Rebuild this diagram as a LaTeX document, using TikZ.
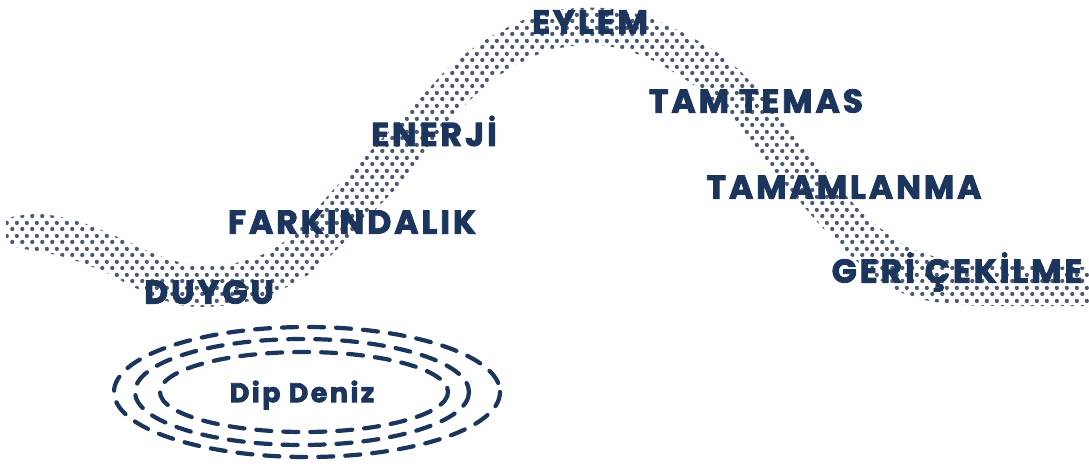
\documentclass[tikz,border=0pt]{standalone}
\usepackage{fontspec}
\usetikzlibrary{calc,patterns}
\newfontfamily\labfont{Poppins}[LetterSpace=9,BoldFeatures={FakeBold=2.5}]
\definecolor{navy}{RGB}{27,53,93}
\definecolor{dotc}{RGB}{74,88,116}
\pgfdeclarepatternformonly{hdots}{\pgfqpoint{0pt}{0pt}}{\pgfqpoint{10pt}{13pt}}{\pgfqpoint{10pt}{13pt}}{%
  \pgfpathcircle{\pgfqpoint{2.5pt}{3.25pt}}{2.3pt}%
  \pgfpathcircle{\pgfqpoint{7.5pt}{9.75pt}}{2.3pt}%
  \pgfusepath{fill}}
\begin{document}
\begin{tikzpicture}[x=1pt,y=-1pt,
  lab/.style={text=navy,font=\labfont\bfseries\fontsize{33}{36}\selectfont,inner sep=0pt,anchor=center},
  sublab/.style={text=navy,font=\labfont\bfseries\fontsize{27}{30}\selectfont,inner sep=0pt},
  ring/.style={draw=navy,line width=4.2pt,dash pattern=on 15pt off 12pt,line cap=round},
  band/.style={pattern=hdots,pattern color=dotc}]
\useasboundingbox (0,0) rectangle (1089,466);
\fill[white] (0,0) rectangle (1089,466);
% halftone band
\path[band] plot[smooth,tension=0.6] coordinates {(6,218) (40,214) (80,222) (120,238) (160,256) (200,266) (240,262) (275,248) (305,222) (333,190) (362,160) (392,128) (423,95) (455,62) (497,33) (540,14) (580,8) (620,10) (660,22) (700,42) (730,62) (760,92) (790,128) (820,165) (850,200) (880,228) (910,248) (950,260) (1000,265) (1089,267)}
 -- plot[smooth,tension=0.6] coordinates {(1089,306) (1000,306) (950,304) (910,296) (880,280) (850,255) (820,225) (790,190) (760,155) (730,118) (700,90) (670,70) (640,55) (600,45) (560,48) (530,58) (497,77) (465,105) (435,140) (406,178) (380,205) (356,230) (328,258) (300,280) (260,298) (220,306) (180,305) (140,290) (100,270) (60,256) (20,248) (6,242)} -- cycle;
% labels
\node[lab] (eylem) at (590,22) {EYLEM};
\node[lab] (tamtemas) at (756,101) {TAM TEMAS};
\node[lab] (enerji) at (434,131) {ENERJİ};
\node[lab] (tamamlanma) at (844,187) {TAMAMLANMA};
\node[lab] (farkindalik) at (352,222) {FARKINDALIK};
\node[lab] (geri) at (957,272) {GERİ ÇEKİLME};
\node[lab] (duygu) at (209,292) {DUYGU};
% deep sea
\node[sublab] (dip) at (302,395) {Dip Deniz};
\draw[ring] ($(dip)+(5,-3)$) ellipse[x radius=193,y radius=65];
\draw[ring] ($(dip)+(0,-3)$) ellipse[x radius=167,y radius=53];
\draw[ring] ($(dip)+(2,-3)$) ellipse[x radius=144,y radius=40];
\end{tikzpicture}
\end{document}
